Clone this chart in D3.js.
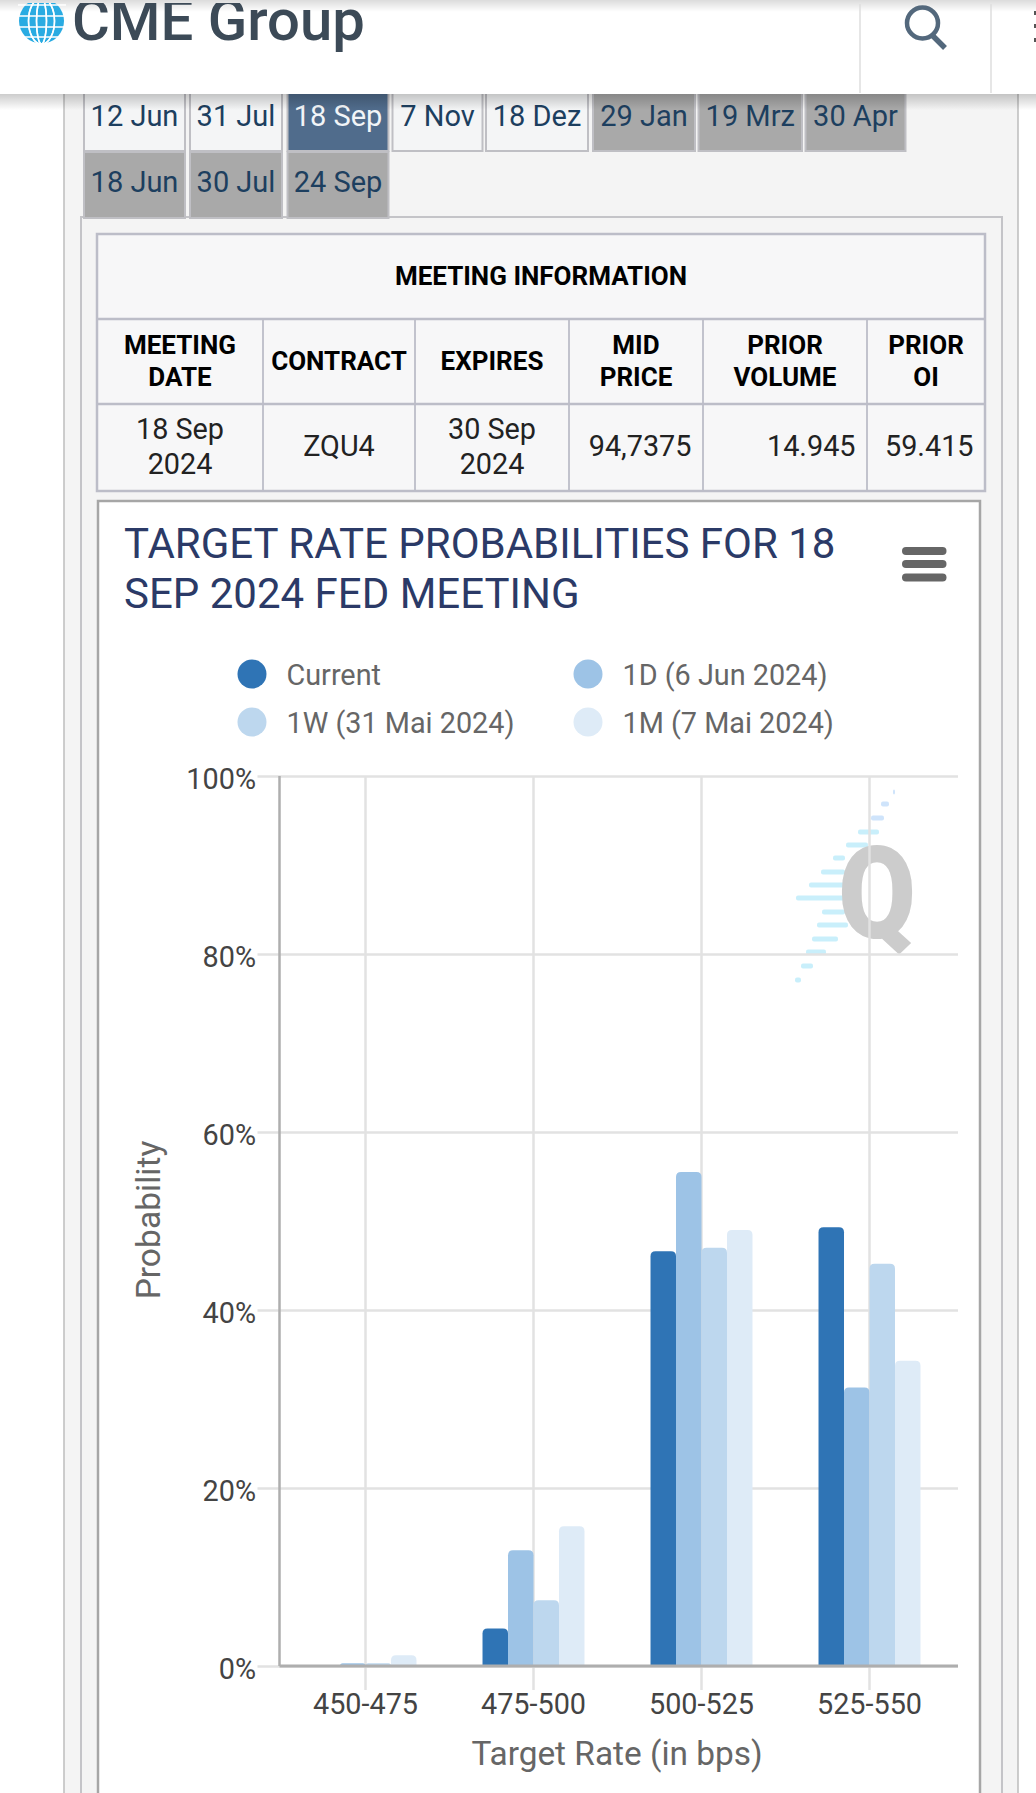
<!DOCTYPE html>
<html>
<head>
<meta charset="utf-8">
<script src="https://cdn.jsdelivr.net/npm/d3@7"></script>
<style>
  html, body { margin: 0; background: #fff; }
  svg { display: block; }
  text { font-family: Roboto, sans-serif; }
</style>
</head>
<body>
<svg id="chart" width="1036" height="1793"></svg>
<script>
// chart data
const categories = ['450-475', '475-500', '500-525', '525-550'];
const seriesNames = ['Current', '1D (6 Jun 2024)', '1W (31 Mai 2024)', '1M (7 Mai 2024)'];
const current = [0, 4.2, 46.6, 49.3];
const oneDay = [0.3, 13.0, 55.5, 31.3];
const oneWeek = [0.3, 7.4, 47.0, 45.2];
const oneMonth = [1.2, 15.7, 49.0, 34.3];
const yTicks = [0, 20, 40, 60, 80, 100];

// page content
const tabsRow1 = ['12 Jun', '31 Jul', '18 Sep', '7 Nov', '18 Dez', '29 Jan', '19 Mrz', '30 Apr'];
const tabsRow2 = ['18 Jun', '30 Jul', '24 Sep'];
const headerRow = [['MEETING', 'DATE'], ['CONTRACT'], ['EXPIRES'], ['MID', 'PRICE'], ['PRIOR', 'VOLUME'], ['PRIOR', 'OI']];
const valueRow = [['18 Sep', '2024'], ['ZQU4'], ['30 Sep', '2024'], ['94,7375'], ['14.945'], ['59.415']];

const seriesValues = [current, oneDay, oneWeek, oneMonth];
const colors = ['#2f74b5', '#9dc3e6', '#bdd7ee', '#deebf7'];

const svg = d3.select('#chart');
const defs = svg.append('defs');

const shadow = defs.append('linearGradient').attr('id', 'shadow').attr('x1', 0).attr('x2', 0).attr('y1', 0).attr('y2', 1);
shadow.append('stop').attr('offset', 0).attr('stop-color', '#000').attr('stop-opacity', 0.2);
shadow.append('stop').attr('offset', 1).attr('stop-color', '#000').attr('stop-opacity', 0);

const topShade = defs.append('linearGradient').attr('id', 'topShade').attr('x1', 0).attr('x2', 0).attr('y1', 0).attr('y2', 1);
topShade.append('stop').attr('offset', 0).attr('stop-color', '#000').attr('stop-opacity', 0.14);
topShade.append('stop').attr('offset', 1).attr('stop-color', '#000').attr('stop-opacity', 0);

defs.append('filter').attr('id', 'soft')
  .append('feGaussianBlur').attr('stdDeviation', 0.7);

defs.append('clipPath').attr('id', 'headerClip')
  .append('rect').attr('x', 0).attr('y', 3).attr('width', 1036).attr('height', 90);

// outer panels
svg.append('rect').attr('x', 64).attr('y', 60).attr('width', 954).attr('height', 1800)
  .attr('fill', '#f4f4f4').attr('stroke', '#bdbdbd').attr('stroke-width', 1.5);
svg.append('rect').attr('x', 81).attr('y', 217).attr('width', 921).attr('height', 1700)
  .attr('fill', '#f4f4f4').attr('stroke', '#c4c4c8').attr('stroke-width', 2);

// tabs
const row1Edges = [[84, 185], [190, 282], [287.5, 388.5], [392.5, 482.5], [486, 588], [593, 695], [698.5, 802], [805.5, 905.5]];
const row2Edges = [[84, 185], [190, 282], [287.5, 388.5]];

function drawTabs(labels, edges, top, bottom, baseline, style) {
  const g = svg.append('g');
  labels.forEach((label, i) => {
    const s = style(i);
    g.append('rect')
      .attr('x', edges[i][0]).attr('y', top)
      .attr('width', edges[i][1] - edges[i][0]).attr('height', bottom - top)
      .attr('fill', s.fill).attr('stroke', '#bfbfc4').attr('stroke-width', 2);
    g.append('text')
      .attr('x', (edges[i][0] + edges[i][1]) / 2).attr('y', baseline)
      .attr('text-anchor', 'middle').attr('font-size', 29)
      .attr('fill', s.color).text(label);
  });
}
drawTabs(tabsRow1, row1Edges, 60, 151, 126, i => {
  if (i === 2) return { fill: '#506c8c', color: '#f2f5f8' };
  if (i > 4) return { fill: '#a9a9a9', color: '#1d3f5f' };
  return { fill: '#f4f5f6', color: '#1d3f5f' };
});
drawTabs(tabsRow2, row2Edges, 152, 218, 192, () => ({ fill: '#a9a9a9', color: '#1d3f5f' }));

// meeting information table
const colEdges = [97, 263, 415, 569, 703, 867, 985];
const rowEdges = [234, 319, 404, 491];
const tableG = svg.append('g');
tableG.append('rect').attr('x', 97).attr('y', 234).attr('width', 888).attr('height', 257)
  .attr('fill', '#f7f7f8').attr('stroke', '#bcbdc8').attr('stroke-width', 2.5);
rowEdges.slice(1, 3).forEach(y => {
  tableG.append('line').attr('x1', 97).attr('x2', 985).attr('y1', y).attr('y2', y)
    .attr('stroke', '#bcbdc8').attr('stroke-width', 2.5);
});
colEdges.slice(1, 6).forEach(x => {
  tableG.append('line').attr('x1', x).attr('x2', x).attr('y1', 319).attr('y2', 491)
    .attr('stroke', '#bcbdc8').attr('stroke-width', 1.8);
});
tableG.append('text').attr('x', 541).attr('y', 285)
  .attr('text-anchor', 'middle').attr('font-size', 26).attr('font-weight', 700).attr('fill', '#000')
  .text('MEETING INFORMATION');
headerRow.forEach((lines, i) => {
  const cx = (colEdges[i] + colEdges[i + 1]) / 2;
  const baselines = lines.length === 2 ? [354, 386] : [370];
  lines.forEach((line, j) => {
    tableG.append('text').attr('x', cx).attr('y', baselines[j])
      .attr('text-anchor', 'middle').attr('font-size', 26).attr('font-weight', 700).attr('fill', '#000')
      .text(line);
  });
});
valueRow.forEach((lines, i) => {
  const baselines = lines.length === 2 ? [439, 474] : [456];
  const right = i >= 3;
  lines.forEach((line, j) => {
    tableG.append('text')
      .attr('x', right ? colEdges[i + 1] - 11.5 : (colEdges[i] + colEdges[i + 1]) / 2)
      .attr('y', baselines[j])
      .attr('text-anchor', right ? 'end' : 'middle')
      .attr('font-size', 28.8).attr('fill', '#222')
      .text(line);
  });
});

// chart box
svg.append('rect').attr('x', 98).attr('y', 501).attr('width', 882).attr('height', 1400)
  .attr('fill', '#fff').attr('stroke', '#a6a6a6').attr('stroke-width', 2.5);

// title, context menu
svg.append('text').attr('x', 124).attr('y', 558).attr('font-size', 42).attr('fill', '#2b3a67')
  .text('TARGET RATE PROBABILITIES FOR 18');
svg.append('text').attr('x', 124).attr('y', 608).attr('font-size', 42).attr('fill', '#2b3a67')
  .text('SEP 2024 FED MEETING');
[547, 560, 573.5].forEach(y => {
  svg.append('rect').attr('x', 902).attr('y', y).attr('width', 44.5).attr('height', 8)
    .attr('rx', 4).attr('fill', '#666');
});

// legend
const legendPos = [[252, 674], [588, 674], [252, 722], [588, 722]];
const legend = svg.append('g').selectAll('g').data(seriesNames).enter().append('g')
  .attr('transform', (d, i) => `translate(${legendPos[i][0]},${legendPos[i][1]})`);
legend.append('circle').attr('r', 14.5).attr('fill', (d, i) => colors[i]);
legend.append('text').attr('x', 34.5).attr('y', 11).attr('font-size', 28.8).attr('fill', '#666').text(d => d);

// scales
const plotLeft = 279.5, plotRight = 958, plotTop = 776, plotBottom = 1666;
const x = d3.scaleBand().domain(categories).range([281.5, 953.5]).paddingInner(0.393).paddingOuter(0.1965);
const xInner = d3.scaleBand().domain(seriesNames).range([0, x.bandwidth()]);
const y = d3.scaleLinear().domain([0, 100]).range([plotBottom, plotTop]);

// Q watermark sits under the grid
const stripes = [[893, 895, 792], [881, 889, 804], [871, 884, 818], [858, 879, 832], [846, 868, 845],
  [833, 845, 858], [821, 845, 872], [809, 845, 885], [796, 845, 898], [822, 845, 912],
  [817, 848, 925], [812, 838, 939], [806, 826, 952], [801, 813, 966], [795, 801, 980]];
const mark = svg.append('g').attr('filter', 'url(#soft)');
mark.selectAll('rect').data(stripes).enter().append('rect')
  .attr('x', d => d[0]).attr('y', d => d[2] - 2.5)
  .attr('width', d => d[1] - d[0]).attr('height', 5).attr('rx', 2)
  .attr('fill', d => d[2] < 830 ? '#cfe4fb' : '#c9effb');
mark.append('text').attr('transform', 'translate(838,938) scale(0.88,1)')
  .attr('font-size', 128).attr('font-weight', 900).attr('fill', '#cccccc').text('Q');

// grid + axes
const yAxis = svg.append('g').attr('transform', `translate(${plotLeft},0)`)
  .call(d3.axisLeft(y).tickValues(yTicks).tickFormat(d => d + '%').tickSize(-(plotRight - plotLeft)).tickPadding(-3));
yAxis.select('.domain').remove();
yAxis.selectAll('line').attr('x1', -22).attr('stroke', '#e2e2e2').attr('stroke-width', 2.5);
yAxis.selectAll('text').attr('font-size', 28.8).attr('fill', '#444').attr('dy', '0.42em').attr('x', -23.5)
  .style('font-family', 'Roboto');

const xGrid = svg.append('g').attr('transform', `translate(0,${plotBottom})`)
  .call(d3.axisBottom(x).tickSize(24).tickPadding(0));
xGrid.select('.domain').remove();
xGrid.selectAll('line').attr('y1', -(plotBottom - plotTop)).attr('stroke', '#e2e2e2').attr('stroke-width', 2.5);
xGrid.selectAll('text').attr('font-size', 28.8).attr('fill', '#444').attr('y', 48).attr('dy', 0)
  .style('font-family', 'Roboto');

// rounded top bars
function barPath(bx, w, top) {
  const r = Math.min(5, y(0) - top, w / 2);
  return `M${bx},${y(0)}V${top + r}Q${bx},${top} ${bx + r},${top}H${bx + w - r}Q${bx + w},${top} ${bx + w},${top + r}V${y(0)}Z`;
}
const bars = svg.append('g');
seriesValues.forEach((values, s) => {
  bars.append('g').selectAll('path').data(values).enter().append('path')
    .attr('d', (d, i) => barPath(x(categories[i]) + xInner(seriesNames[s]), xInner.bandwidth(), y(d)))
    .attr('fill', colors[s]);
});

// axis lines
svg.append('line').attr('x1', plotLeft).attr('x2', plotLeft).attr('y1', plotTop).attr('y2', plotBottom)
  .attr('stroke', '#aeaeae').attr('stroke-width', 2.5);
svg.append('line').attr('x1', plotLeft).attr('x2', plotRight).attr('y1', plotBottom).attr('y2', plotBottom)
  .attr('stroke', '#aeaeae').attr('stroke-width', 3);

// axis titles
svg.append('text').attr('transform', 'translate(160,1220) rotate(-90)')
  .attr('text-anchor', 'middle').attr('font-size', 33.6).attr('fill', '#666').text('Probability');
svg.append('text').attr('x', 617).attr('y', 1765)
  .attr('text-anchor', 'middle').attr('font-size', 33.4).attr('fill', '#666').text('Target Rate (in bps)');

// site header on top of everything
svg.append('rect').attr('x', 0).attr('y', 94).attr('width', 1036).attr('height', 16).attr('fill', 'url(#shadow)');
svg.append('rect').attr('x', 0).attr('y', 0).attr('width', 1036).attr('height', 94).attr('fill', '#fff');
svg.append('rect').attr('x', 0).attr('y', 0).attr('width', 1036).attr('height', 12).attr('fill', 'url(#topShade)');
const header = svg.append('g').attr('clip-path', 'url(#headerClip)');
header.append('circle').attr('cx', 41.5).attr('cy', 21).attr('r', 22.5).attr('fill', '#29abe2');
[-13, -5, 5, 13].forEach(dx => {
  header.append('ellipse').attr('cx', 41.5).attr('cy', 21).attr('rx', Math.abs(dx)).attr('ry', 23)
    .attr('fill', 'none').attr('stroke', '#fff').attr('stroke-width', 1.5);
});
[5, 16, 27, 37].forEach(ly => {
  header.append('line').attr('x1', 18).attr('x2', 66).attr('y1', ly).attr('y2', ly)
    .attr('stroke', '#fff').attr('stroke-width', 1.5);
});
header.append('text').attr('x', 72).attr('y', 40).attr('font-size', 58).attr('font-weight', 500)
  .attr('fill', '#3c4a57').style('font-family', 'Roboto').text('CME Group');
[860, 991].forEach(lx => {
  svg.append('line').attr('x1', lx).attr('x2', lx).attr('y1', 4).attr('y2', 93)
    .attr('stroke', '#dedede').attr('stroke-width', 1.5);
});
svg.append('circle').attr('cx', 922.5).attr('cy', 23).attr('r', 15.5)
  .attr('fill', 'none').attr('stroke', '#53687c').attr('stroke-width', 4.5);
svg.append('line').attr('x1', 932).attr('y1', 35).attr('x2', 945).attr('y2', 48)
  .attr('stroke', '#53687c').attr('stroke-width', 5.5);
[13, 26, 40].forEach(my => {
  svg.append('rect').attr('x', 1034).attr('y', my - 2).attr('width', 2).attr('height', 4).attr('fill', '#555');
});
</script>
</body>
</html>
